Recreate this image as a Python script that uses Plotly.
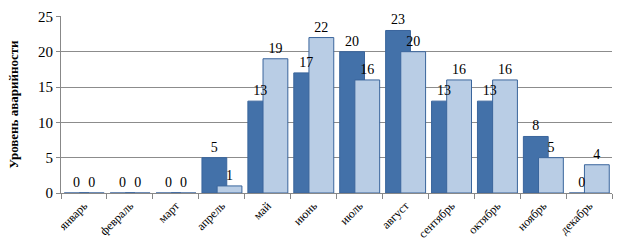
import plotly.graph_objects as go

months = ["январь", "февраль", "март", "апрель", "май", "июнь", "июль",
          "август", "сентябрь", "октябрь", "ноябрь", "декабрь"]
series_a = [0, 0, 0, 5, 13, 17, 20, 23, 13, 13, 8, 0]
series_b = [0, 0, 0, 1, 19, 22, 16, 20, 16, 16, 5, 4]
y_max = 25
y_step = 5

DARK = "#4371A9"
LIGHT = "#B9CDE5"
EDGE = "#3A659C"
FONT = "Liberation Serif"

off_a, off_b, w = -0.43, -0.10, 0.54

fig = go.Figure()
fig.add_trace(go.Bar(x=months, y=series_a, offset=off_a, width=w,
                     marker=dict(color=DARK, line=dict(color=EDGE, width=1)),
                     showlegend=False))
fig.add_trace(go.Bar(x=months, y=series_b, offset=off_b, width=w,
                     marker=dict(color=LIGHT, line=dict(color=EDGE, width=1)),
                     text=series_b, textposition="outside", cliponaxis=False,
                     textfont=dict(family=FONT, size=14, color="black"),
                     showlegend=False))
# label layer for the first series, drawn on top of the overlapping bars
fig.add_trace(go.Bar(x=months, y=series_a, offset=off_a, width=w,
                     marker=dict(color="rgba(0,0,0,0)", line=dict(width=0)),
                     text=series_a, textposition="outside", cliponaxis=False,
                     textfont=dict(family=FONT, size=14, color="black"),
                     showlegend=False))

fig.update_layout(
    width=621, height=252,
    margin=dict(l=61, r=9, t=10, b=59),
    barmode="overlay",
    plot_bgcolor="white", paper_bgcolor="white",
    font=dict(family=FONT, color="black"),
    yaxis=dict(
        range=[0, y_max + 0.05], tick0=0, dtick=y_step,
        showgrid=True, gridcolor="#8C8C8C", gridwidth=1,
        showline=True, linecolor="#888888", linewidth=1, ticks="outside", ticklen=4,
        tickcolor="#888888", tickfont=dict(family=FONT, size=15, color="black"),
        zeroline=False,
        title=dict(text="<b>Уровень аварийности</b>", font=dict(family=FONT, size=13),
                   standoff=16),
    ),
    xaxis=dict(
        type="category", tickson="boundaries", ticks="outside", ticklen=5,
        tickcolor="#888888", showline=True, linecolor="#888888", linewidth=1,
        tickangle=-45, tickfont=dict(family=FONT, size=12, color="black"),
        showgrid=False,
    ),
)

fig.write_html("out.html")
